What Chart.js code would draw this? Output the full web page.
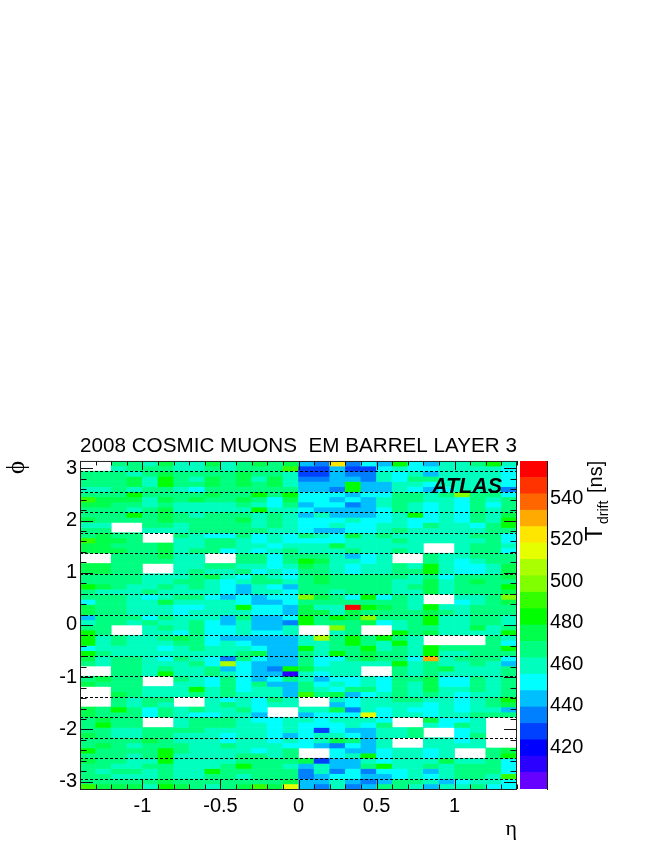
<!DOCTYPE html>
<html><head><meta charset="utf-8">
<style>html,body{margin:0;padding:0;background:#fff}canvas{position:absolute;left:0;top:0}#w{position:relative;width:664px;height:860px}</style>
<script src="https://cdn.jsdelivr.net/npm/chart.js@4"></script>
</head><body><div id="w"><canvas id="main" width="664" height="860"></canvas><canvas id="bar" width="664" height="860"></canvas></div>
<script>
const etaCenters=[-1.35,-1.25,-1.15,-1.05,-0.95,-0.85,-0.75,-0.65,-0.55,-0.45,-0.35,-0.25,-0.15,-0.05,0.05,0.15,0.25,0.35,0.45,0.55,0.65,0.75,0.85,0.95,1.05,1.15,1.25,1.35];
const N=null;
const r00=[N,N,467,467,459,475,459,459,475,459,467,475,467,475,443,435,522,435,451,443,480,451,443,459,463,467,483,459];
const r01=[N,N,459,467,467,467,459,459,467,459,467,467,467,491,427,427,443,427,427,451,459,451,451,459,459,459,459,451];
const r02=[467,467,467,459,467,475,467,467,467,467,475,467,467,459,427,427,443,435,435,459,451,459,443,459,459,459,459,451];
const r03=[467,467,467,475,459,483,467,459,475,467,475,459,475,459,435,435,443,443,435,459,451,467,467,459,459,459,459,451];
const r04=[467,467,467,475,459,483,467,467,475,467,475,467,475,459,443,443,443,483,443,443,459,459,451,459,459,459,459,451];
const r05=[459,459,467,459,467,467,459,451,467,467,467,467,467,467,443,443,435,483,443,443,459,451,443,451,459,459,459,435];
const r06=[467,467,467,483,467,467,467,467,475,467,467,483,467,483,451,451,451,443,451,451,467,467,459,467,498,467,467,451];
const r07=[491,475,475,475,459,475,467,475,467,467,475,467,451,475,451,451,443,451,443,459,467,467,459,459,451,467,459,467];
const r08=[475,475,467,467,459,467,459,459,459,459,467,459,451,467,443,451,451,435,443,459,467,459,451,459,451,467,451,467];
const r09=[467,467,467,459,467,475,459,459,459,459,459,483,459,459,451,443,443,443,443,451,467,459,451,459,451,467,459,467];
const r10=[467,467,467,483,467,475,467,459,467,467,467,459,467,459,443,459,443,443,443,451,459,483,451,459,451,467,459,475];
const r11=[475,467,467,467,467,475,467,467,467,467,475,459,467,459,451,451,451,459,451,451,459,451,451,459,451,467,459,483];
const r12=[459,459,N,N,467,467,459,467,467,467,467,459,467,459,451,451,459,451,451,459,459,451,467,459,459,451,467,483];
const r13=[467,467,N,N,459,459,459,467,467,467,467,467,459,459,451,443,443,451,451,459,467,459,459,459,459,459,467,467];
const r14=[467,475,467,467,N,N,467,459,451,451,467,451,459,451,467,459,451,475,459,467,459,459,459,459,459,467,467,451];
const r15=[491,475,475,467,N,N,459,459,467,467,459,451,459,451,451,451,451,459,459,459,467,459,459,459,459,459,467,451];
const r16=[475,475,467,467,467,475,459,459,467,467,459,459,451,459,459,459,475,459,459,459,459,459,N,N,459,467,467,459];
const r17=[475,475,475,467,467,475,459,467,467,451,459,451,459,467,459,459,459,467,459,459,467,459,N,N,459,467,467,451];
const r18=[N,N,467,467,467,475,459,459,N,N,467,467,451,467,467,467,459,443,451,459,N,N,467,459,459,467,467,467];
const r19=[N,N,467,467,467,467,459,459,N,N,467,467,451,467,483,475,459,459,451,459,N,N,467,459,451,459,467,467];
const r20=[475,475,467,467,N,N,459,459,467,467,459,459,451,459,475,467,459,451,459,459,467,459,483,459,451,451,459,475];
const r21=[475,475,467,467,N,N,459,467,459,459,467,451,459,451,467,467,459,451,459,459,467,467,483,459,451,451,459,475];
const r22=[467,467,467,467,459,459,459,467,475,459,451,467,459,451,467,475,467,467,467,467,467,459,467,451,467,467,467,475];
const r23=[467,467,467,467,459,459,467,467,459,451,459,467,467,459,467,475,467,467,467,467,459,459,475,459,467,475,467,467];
const r24=[483,475,467,459,459,467,459,467,459,451,443,459,451,443,467,467,467,467,467,467,459,467,475,459,467,467,467,483];
const r25=[467,459,459,459,467,459,459,459,459,451,443,459,459,451,467,467,459,467,467,467,459,459,475,459,467,467,467,475];
const r26=[467,467,467,459,451,459,467,467,451,443,451,443,451,451,498,475,467,451,483,451,467,459,N,N,459,459,467,498];
const r27=[451,467,467,459,459,475,459,459,459,459,451,443,443,451,467,467,467,467,467,467,467,459,N,N,451,459,467,475];
const r28=[475,467,467,459,459,459,451,451,459,459,483,451,451,443,475,459,459,555,483,475,467,459,483,459,459,467,467,467];
const r29=[475,467,467,459,459,459,451,459,459,459,459,451,451,443,475,475,459,475,467,467,467,467,475,467,459,467,467,467];
const r30=[443,467,467,467,451,467,459,459,459,443,467,443,443,451,483,467,483,475,498,467,467,467,483,459,459,467,467,459];
const r31=[459,467,467,459,467,459,459,467,451,443,459,443,443,435,483,467,467,467,475,451,459,467,483,459,459,467,467,459];
const r32=[467,467,N,N,459,467,459,467,451,451,459,443,443,459,N,N,498,467,N,N,459,467,467,459,459,475,459,467];
const r33=[483,467,N,N,459,459,451,467,451,451,459,451,451,459,N,N,459,467,N,N,483,467,475,459,459,459,459,483];
const r34=[483,459,467,459,459,467,475,467,451,443,443,443,443,443,459,505,467,483,467,483,467,459,N,N,N,N,467,459];
const r35=[483,459,467,459,459,459,467,467,451,459,451,443,443,443,459,459,467,483,467,459,483,459,N,N,N,N,467,451];
const r36=[451,459,459,459,459,451,459,467,459,459,459,451,443,443,483,459,467,467,483,459,467,459,483,467,467,467,467,483];
const r37=[483,467,459,459,459,459,459,459,459,459,467,475,443,443,467,459,483,467,475,467,467,459,483,459,459,467,467,467];
const r38=[475,459,467,467,459,451,467,459,451,435,467,451,443,443,467,451,451,467,475,467,467,451,530,459,467,467,467,451];
const r39=[467,459,467,467,459,459,459,467,451,505,451,443,443,443,467,451,459,459,459,459,483,459,467,459,459,467,459,443];
const r40=[N,N,467,467,459,467,459,459,467,443,451,443,435,483,475,459,459,459,N,N,467,459,467,475,459,459,459,467];
const r41=[N,N,467,467,459,483,459,459,467,459,451,443,443,412,459,451,459,459,N,N,467,459,467,459,459,459,459,467];
const r42=[467,475,467,467,N,N,467,459,451,467,451,443,451,467,459,443,451,451,459,451,467,467,475,451,451,467,459,467];
const r43=[475,467,467,467,N,N,459,459,451,467,451,467,443,443,467,451,459,451,459,451,467,459,475,451,451,467,459,467];
const r44=[N,N,467,467,459,459,459,483,459,467,451,459,459,443,467,459,451,467,467,451,467,459,475,459,459,467,459,467];
const r45=[N,N,475,467,459,459,459,467,459,467,459,459,459,443,491,467,475,443,451,459,467,459,467,459,451,459,459,467];
const r46=[N,N,467,459,467,467,N,N,459,451,459,451,467,459,N,N,459,451,459,459,467,467,459,459,451,459,467,483];
const r47=[N,N,467,459,467,459,N,N,459,467,459,451,459,459,N,N,443,451,459,459,459,459,451,459,451,459,467,475];
const r48=[475,467,483,467,451,467,459,467,459,459,467,451,N,N,459,459,475,435,459,451,459,451,451,459,451,459,459,443];
const r49=[475,467,467,467,451,467,459,451,451,459,459,443,N,N,443,451,451,451,514,451,459,459,451,459,459,467,467,467];
const r50=[467,475,467,467,N,N,459,467,467,467,459,451,451,459,459,451,459,459,459,451,N,N,475,451,451,459,N,N];
const r51=[467,483,467,467,N,N,459,467,467,467,459,459,451,459,451,451,451,459,451,467,N,N,459,451,467,459,N,N];
const r52=[467,467,459,459,467,467,467,467,459,459,459,459,451,459,451,427,451,443,443,459,459,467,N,N,451,459,N,N];
const r53=[475,467,459,459,467,467,459,459,459,451,459,459,451,443,451,459,459,451,443,459,459,467,N,N,451,467,N,N];
const r54=[467,467,467,467,475,467,459,459,459,451,459,459,451,459,451,459,475,467,443,459,N,N,459,459,451,459,N,N];
const r55=[467,475,467,459,467,467,467,459,459,467,459,459,459,451,451,443,435,451,443,459,N,N,459,459,459,459,N,N];
const r56=[483,467,467,467,467,483,467,459,459,459,459,451,459,467,N,N,451,443,443,451,459,459,451,459,N,N,467,475];
const r57=[467,467,467,459,467,483,459,459,459,459,467,467,459,467,N,N,451,459,483,451,459,459,451,459,N,N,467,483];
const r58=[475,467,467,459,459,483,459,459,459,459,467,467,467,467,475,427,443,443,459,451,459,459,459,475,459,459,467,451];
const r59=[467,467,459,459,467,467,459,459,459,467,483,467,467,459,443,459,443,443,467,483,459,459,467,459,467,467,467,451];
const r60=[467,459,467,467,459,467,459,459,483,467,467,467,467,467,435,459,435,451,435,451,451,459,443,459,467,467,467,451];
const r61=[467,467,459,459,459,467,459,459,467,467,459,467,467,467,435,443,451,451,443,443,451,459,451,459,467,467,459,491];
const r62=[467,467,467,467,467,475,467,467,467,467,467,467,467,475,443,443,459,443,435,443,467,467,459,443,451,459,459,451];
const r63=[491,475,475,475,459,483,475,467,459,467,475,491,475,514,443,435,459,435,443,467,467,459,443,459,459,467,451,451];
const phiRows=[r00,r01,r02,r03,r04,r05,r06,r07,r08,r09,r10,r11,r12,r13,r14,r15,r16,r17,r18,r19,r20,r21,r22,r23,r24,r25,r26,r27,r28,r29,r30,r31,r32,r33,r34,r35,r36,r37,r38,r39,r40,r41,r42,r43,r44,r45,r46,r47,r48,r49,r50,r51,r52,r53,r54,r55,r56,r57,r58,r59,r60,r61,r62,r63];
const zMin=400,zMax=558;
const palette=['#6600ff','#2b00ff','#0000ff','#0040ff','#0080ff','#00bfff','#00ffff','#00ffbf','#00ff80','#00ff4d','#00ff00','#33ff00','#80ff00','#aaff00','#e6ff00','#ffe600','#ffaa00','#ff6600','#ff3300','#ff0000'];
const etaLabels=[-1,-0.5,0,0.5,1];
const phiLabels=[-3,-2,-1,0,1,2,3];
const zLabels=[420,440,460,480,500,520,540];
const PI=Math.PI,dPhi=PI/32,dz=(zMax-zMin)/palette.length;
const colorOf=v=>palette[Math.min(palette.length-1,Math.max(0,Math.floor((v-zMin)/dz)))];
const FONT='"Liberation Sans", Arial, sans-serif';

const datasets=phiRows.map((row,i)=>({
  grouped:false,barPercentage:1,categoryPercentage:1,borderWidth:0,
  backgroundColor:row.map(v=>v==null?'rgba(0,0,0,0)':colorOf(v)),
  data:row.map((v,j)=>v==null?{x:etaCenters[j],y:null}:{x:etaCenters[j],y:[PI-(i+1)*dPhi,PI-i*dPhi]})
}));

const decor={id:'decor',afterDatasetsDraw(c){
  const {ctx,chartArea:a,scales:{x,y}}=c;
  ctx.save();
  ctx.strokeStyle='#000';ctx.lineWidth=1;ctx.setLineDash([3,2]);
  for(let k=0;k<16;k++){const v=PI-PI/16-k*PI/8;const p=Math.round(y.getPixelForValue(v))+0.5;
    ctx.beginPath();ctx.moveTo(a.left,p);ctx.lineTo(a.right,p);ctx.stroke();}
  ctx.setLineDash([]);
  ctx.strokeStyle='#111';
  ctx.beginPath();
  for(let k=-14;k<=14;k++){const v=k/10;const len=k%5===0?9:4.5;const p=Math.round(x.getPixelForValue(v))+0.5;
    ctx.moveTo(p,a.bottom);ctx.lineTo(p,a.bottom-len);ctx.moveTo(p,a.top);ctx.lineTo(p,a.top+len);}
  for(let k=-15;k<=15;k++){const v=k/5;const len=k%5===0?13:6.5;const p=Math.round(y.getPixelForValue(v))+0.5;
    ctx.moveTo(a.left,p);ctx.lineTo(a.left+len,p);ctx.moveTo(a.right,p);ctx.lineTo(a.right-len,p);}
  ctx.stroke();
  ctx.strokeStyle='#222';
  ctx.strokeRect(a.left+0.5,a.top+0.5,a.right-a.left-1,a.bottom-a.top);
  ctx.fillStyle='#000';ctx.font='italic bold 21.5px '+FONT;ctx.textBaseline='alphabetic';ctx.textAlign='left';
  ctx.fillText('ATLAS',432,493);
  ctx.restore();
}};

new Chart(document.getElementById('main'),{
  type:'bar',
  data:{datasets},
  plugins:[decor],
  options:{
    responsive:false,animation:false,events:[],
    layout:{padding:{left:0,right:147,top:0,bottom:0}},
    plugins:{legend:{display:false},tooltip:{enabled:false},
      title:{display:true,text:'2008 COSMIC MUONS  EM BARREL LAYER 3',align:'start',fullSize:false,color:'#000',
        font:{family:FONT,size:20.8,weight:'normal'},padding:{top:434,bottom:2}}},
    scales:{
      x:{type:'linear',min:-1.4,max:1.4,offset:false,grid:{display:false,drawTicks:false},border:{display:false},
        afterBuildTicks(s){s.ticks=etaLabels.map(v=>({value:v}));},
        afterFit(s){s.height=71;},
        ticks:{color:'#000',font:{family:FONT,size:20},padding:5,maxRotation:0,autoSkip:false,callback:v=>String(v)},
        title:{display:true,text:'η',align:'end',color:'#000',font:{family:'"Liberation Serif", serif',size:22},padding:{top:0,bottom:18}}},
      y:{type:'linear',min:-PI,max:PI,grid:{display:false,drawTicks:false},border:{display:false},
        afterBuildTicks(s){s.ticks=phiLabels.map(v=>({value:v}));},
        afterFit(s){s.width=80;},
        ticks:{color:'#000',font:{family:FONT,size:20},padding:3,autoSkip:false,callback:v=>String(v)},
        title:{display:true,text:'ϕ',align:'end',color:'#000',font:{family:'"Liberation Serif", serif',size:25},padding:{top:2,bottom:0}}}
    }
  }
});

const zText={id:'zText',afterDraw(c){
  const {ctx}=c;ctx.save();ctx.fillStyle='#000';ctx.textBaseline='alphabetic';ctx.textAlign='left';
  ctx.translate(602,541);ctx.rotate(-PI/2);
  ctx.font='24px '+FONT;ctx.fillText('T',0,0);
  ctx.font='14px '+FONT;ctx.fillText('drift',17,6);
  ctx.font='20px '+FONT;ctx.fillText('[ns]',48,0);
  ctx.restore();
}};
new Chart(document.getElementById('bar'),{
  type:'bar',
  data:{labels:[''],datasets:palette.map((col,i)=>({grouped:false,barPercentage:1,categoryPercentage:1,borderWidth:0,backgroundColor:col,data:[[zMin+i*dz,zMin+(i+1)*dz]]}))},
  plugins:[zText],
  options:{
    responsive:false,animation:false,events:[],
    layout:{padding:{left:520,right:0,top:461,bottom:71}},
    plugins:{legend:{display:false},tooltip:{enabled:false}},
    scales:{
      x:{display:false},
      y:{type:'linear',position:'right',min:zMin,max:zMax,
        afterBuildTicks(s){s.ticks=zLabels.map(v=>({value:v}));},
        afterFit(s){s.width=117;},
        grid:{drawOnChartArea:false,drawTicks:true,tickLength:-13,color:'#111',tickColor:'#111'},
        border:{display:true,color:'#111'},
        ticks:{color:'#000',font:{family:FONT,size:20},padding:16,autoSkip:false,callback:v=>String(v)}}
    }
  }
});
</script></body></html>
